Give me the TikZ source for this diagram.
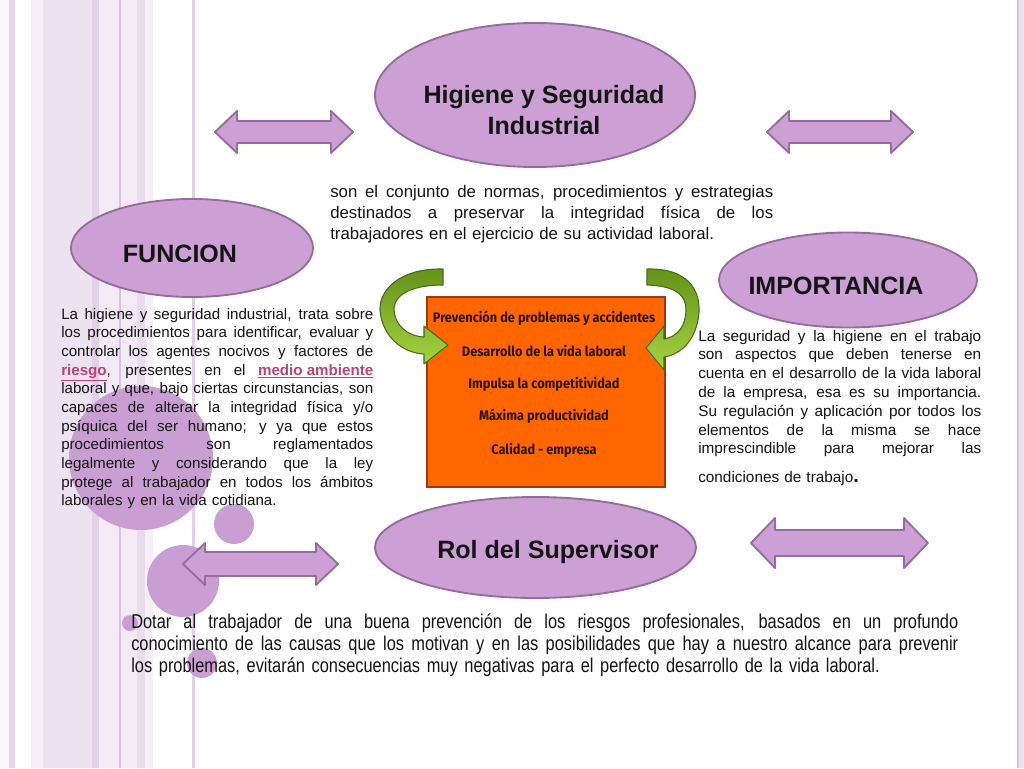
\documentclass[tikz,border=0pt]{standalone}
\usepackage{fontspec}
\setmainfont{Liberation Sans}
\newfontfamily\narrowfont[FakeStretch=0.82]{Liberation Sans}
\newfontfamily\boxfont[FakeStretch=0.92]{Fira Sans}
\usetikzlibrary{shapes.geometric}
\definecolor{lilac}{RGB}{204,160,212}
\definecolor{lilacdk}{RGB}{150,108,158}
\definecolor{circ}{RGB}{201,158,210}
\definecolor{orangebox}{RGB}{255,102,0}
\definecolor{orangebd}{RGB}{150,60,20}
\definecolor{boxtxt}{RGB}{45,20,0}
\definecolor{lnk}{RGB}{182,70,118}
\definecolor{gdark}{RGB}{100,145,25}
\definecolor{glight}{RGB}{165,212,65}
\definecolor{gline}{RGB}{70,110,20}
\definecolor{txt}{RGB}{20,20,20}
\definecolor{s1}{RGB}{230,213,234}
\definecolor{s2}{RGB}{246,239,248}
\definecolor{s3}{RGB}{237,226,240}
\definecolor{s4}{RGB}{227,207,232}
\definecolor{s5}{RGB}{243,234,245}
\definecolor{s6}{RGB}{217,195,222}
\definecolor{s7}{RGB}{234,220,238}
\definecolor{s8}{RGB}{250,246,251}
\newcommand{\stripe}[3]{\fill[#3] (#1,0) rectangle (#2,768);}
\newcommand{\jl}[1]{\leavevmode\hbox to \hsize{\spaceskip=\fontdimen2\font plus 1fil\relax\xspaceskip=\spaceskip #1}}
\newcommand{\lnk}[1]{{\color{lnk}\bfseries\underline{#1}}}
\newcommand{\dblarrow}[6]{%
 \draw[arr] (#1,#3) -- ({#1+#4},{#3-#5}) -- ({#1+#4},{#3-#6}) -- ({#2-#4},{#3-#6}) -- ({#2-#4},{#3-#5}) -- (#2,#3) -- ({#2-#4},{#3+#5}) -- ({#2-#4},{#3+#6}) -- ({#1+#4},{#3+#6}) -- ({#1+#4},{#3+#5}) -- cycle;}
\begin{document}
\begin{tikzpicture}[x=0.75pt,y=-0.75pt,
  ell/.style={ellipse, draw=lilacdk, fill=lilac, line width=1.4pt, inner sep=0pt},
  arr/.style={draw=lilacdk, fill=lilac, line width=1.4pt, line join=round},
  circ/.style={fill=circ},
  title/.style={font=\fontsize{18.8}{22}\selectfont\bfseries, text=txt, inner sep=0pt, anchor=base},
  para/.style={inner sep=0pt, anchor=base west, align=left, text=txt},
  boxline/.style={font=\boxfont\fontsize{10.4}{12}\selectfont\bfseries, text=boxtxt, inner sep=0pt, anchor=base},
  garrow/.style={top color=gdark, bottom color=glight, draw=gline, line width=0.8pt, line join=round}]
\useasboundingbox (0,0) rectangle (1024,768);
\fill[white] (0,0) rectangle (1024,768);
% background stripes
\stripe{0}{9}{s8}
\stripe{9}{15}{s1}
\stripe{31}{43}{s2}
\stripe{43}{92}{s3}
\stripe{92}{99}{s4}
\stripe{99}{119}{s5}
\stripe{119}{120.5}{s6}
\stripe{120.5}{137}{s5}
\stripe{137}{145}{s7}
\stripe{145}{153}{s2}
\stripe{192}{194.5}{s4}
\stripe{1017}{1018.5}{s6}
\stripe{1018.5}{1024}{s3}
% decorative circles
\fill[circ] (141,458) circle[radius=72];
\fill[circ] (234,524) circle[radius=20];
\fill[circ] (183,581) circle[radius=36];
\fill[circ] (130,623) circle[radius=8];
\fill[circ] (202,663) circle[radius=15];
% double arrows
\dblarrow{215}{353}{132}{22}{21}{11}
\dblarrow{767}{913}{132}{22}{21}{11}
\dblarrow{183}{338}{564}{22}{21}{12}
\dblarrow{751}{928}{543}{24}{25}{13}
% ellipses
\node[ell, minimum width=240pt, minimum height=108pt] (hig) at (535,95) {};
\node[title] (higt) at (544,103) {Higiene y Seguridad};
\node[title] (higt2) at (544,134) {Industrial};
\node[ell, minimum width=181.5pt, minimum height=73.5pt] (fun) at (192,248) {};
\node[title] (funt) at (180,262) {FUNCION};
\node[ell, minimum width=193.5pt, minimum height=71.25pt] (imp) at (848,280) {};
\node[title] (impt) at (836,294) {IMPORTANCIA};
\node[ell, minimum width=240.75pt, minimum height=75.75pt] (rol) at (535.5,547.5) {};
\node[title] (rolt) at (548,558) {Rol del Supervisor};
% orange box
\node[draw=orangebd, fill=orangebox, line width=1.4pt, minimum width=178.5pt, minimum height=142.5pt, inner sep=0pt] (box) at (546,392) {};
\node[boxline] (b1) at (544,322) {Prevención de problemas y accidentes};
\node[boxline] (b2) at (544,356) {Desarrollo de la vida laboral};
\node[boxline] (b3) at (544,388) {Impulsa la competitividad};
\node[boxline] (b4) at (544,420) {Máxima productividad};
\node[boxline] (b5) at (544,454) {Calidad - empresa};
% green curved arrows
\shade[garrow] (443,269) .. controls (400,268) and (379,290) .. (380,310) .. controls (382,336) and (402,353) .. (424,354) -- (424,364) -- (448,345) -- (424,326) -- (424,337) .. controls (407,336) and (394,325) .. (394,308) .. controls (395,294) and (413,285) .. (443,285) -- cycle;
\shade[garrow] (647,269) .. controls (688,268) and (700,290) .. (699,312) .. controls (697,338) and (683,354) .. (664,357) -- (664,370) -- (646,348) -- (664,326) -- (664,339) .. controls (678,337) and (686,325) .. (686,310) .. controls (686,295) and (676,286) .. (647,285) -- cycle;
% paragraphs
\node[para, text width=332.25pt, font=\fontsize{12.6}{15.75}\selectfont] (def) at (330,197) {%
\jl{son el conjunto de normas, procedimientos y estrategias}\\
\jl{destinados a preservar la integridad física de los}\\
trabajadores en el ejercicio de su actividad laboral.};
\node[para, text width=234pt, font=\fontsize{11.35}{14}\selectfont] (funp) at (61,319) {%
\jl{La higiene y seguridad industrial, trata sobre}\\
\jl{los procedimientos para identificar, evaluar y}\\
\jl{controlar los agentes nocivos y factores de}\\
\jl{\lnk{riesgo}, presentes en el \lnk{medio ambiente}}\\
\jl{laboral y que, bajo ciertas circunstancias, son}\\
\jl{capaces de alterar la integridad física y/o}\\
\jl{psíquica del ser humano; y ya que estos}\\
\jl{procedimientos son reglamentados}\\
\jl{legalmente y considerando que la ley}\\
\jl{protege al trabajador en todos los ámbitos}\\
laborales y en la vida cotidiana.};
\node[para, text width=212.25pt, font=\fontsize{11.5}{14.1}\selectfont] (impp) at (698,341) {%
\jl{La seguridad y la higiene en el trabajo}\\
\jl{son aspectos que deben tenerse en}\\
\jl{cuenta en el desarrollo de la vida laboral}\\
\jl{de la empresa, esa es su importancia.}\\
\jl{Su regulación y aplicación por todos los}\\
\jl{elementos de la misma se hace}\\
\jl{imprescindible para mejorar las}\\[7.5pt]
condiciones de trabajo{\fontsize{15}{15}\selectfont\bfseries .}};
\node[para, text width=620.25pt, font=\narrowfont\fontsize{15}{16.5}\selectfont] (dot) at (131,628) {%
\jl{Dotar al trabajador de una buena prevención de los riesgos profesionales, basados en un profundo}\\
\jl{conocimiento de las causas que los motivan y en las posibilidades que hay a nuestro alcance para prevenir}\\
los problemas, evitarán consecuencias muy negativas para el perfecto desarrollo de la vida laboral.};
\end{tikzpicture}
\end{document}
